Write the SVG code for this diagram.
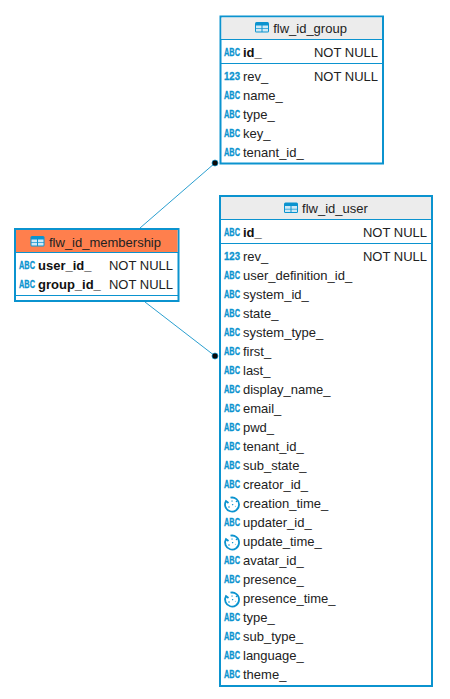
<svg xmlns="http://www.w3.org/2000/svg" width="450" height="699" viewBox="0 0 450 699">
<style>
text{font-family:"Liberation Sans",Arial,sans-serif;font-size:13px;fill:#222}
.box{fill:#fff;stroke:#0b93cf;stroke-width:2}
.hg{fill:#ececec}.ho{fill:#ff7f4d}
.sep{stroke:#0b93cf;stroke-width:1;fill:none}
.t{text-anchor:middle}
.e{text-anchor:end}
.b{font-weight:bold;fill:#111}
.i{font-size:10.5px;font-weight:bold;fill:#0b93cf;stroke:#0b93cf;stroke-width:.3}
.c{stroke:#2a9fd0;stroke-width:1;fill:none}
.dot{fill:#0a0a0a;stroke:#0b93cf;stroke-width:.7}
.ck{fill:none;stroke:#0b93cf;stroke-width:1.8}
.ckd{fill:none;stroke:#0b93cf;stroke-width:1.2;stroke-dasharray:1.2 2.4}
</style>
<defs>
<g id="tbl"><rect x="0" y="0" width="14" height="10.500" rx="1.500" fill="#0b93cf"/><rect x="1" y="3.500" width="5.500" height="2.800" fill="#cfe9f6"/><rect x="7.500" y="3.500" width="5.500" height="2.800" fill="#cfe9f6"/><rect x="1" y="7" width="5.500" height="2.500" fill="#cfe9f6"/><rect x="7.500" y="7" width="5.500" height="2.500" fill="#cfe9f6"/></g>
<g id="clk"><path class="ck" d="M6 1.200A7 7 0 1 1 1.500 4.500L4 6.500"/><path class="ckd" d="M7.500 4L8 8L11 10"/><circle cx="4.500" cy="10.500" r=".8" fill="#0b93cf"/><circle cx="12" cy="5" r=".8" fill="#0b93cf"/></g>
<text id="abc" class="i" textLength="16" lengthAdjust="spacingAndGlyphs">ABC</text>
<text id="num" class="i" textLength="16" lengthAdjust="spacingAndGlyphs">123</text>
</defs>
<g id="connectors">
<path class="c" d="M140 228L215 163"/>
<path class="c" d="M145 302L215 356"/>
<circle class="dot" cx="215" cy="163" r="3"/>
<circle class="dot" cx="215" cy="356" r="3"/>
</g>
<g id="flw_id_group">
<rect class="box" x="220.500" y="16.500" width="162.500" height="147"/>
<rect class="hg" x="221.500" y="17.500" width="160.500" height="22"/>
<path class="sep" d="M221 39.500H382M221 63.500H382"/>
<use href="#tbl" x="255" y="22"/>
<text class="t" x="310" y="33">flw_id_group</text>
<use href="#abc" x="224" y="55.500"/><text class="b" x="243" y="57">id_</text><text class="e" x="378" y="57">NOT NULL</text>
<use href="#num" x="224" y="79.500"/><text x="243" y="81">rev_</text><text class="e" x="378" y="81">NOT NULL</text>
<use href="#abc" x="224" y="98.500"/><text x="243" y="100">name_</text>
<use href="#abc" x="224" y="117.500"/><text x="243" y="119">type_</text>
<use href="#abc" x="224" y="136.500"/><text x="243" y="138">key_</text>
<use href="#abc" x="224" y="155.500"/><text x="243" y="157">tenant_id_</text>
</g>
<g id="flw_id_membership">
<rect class="box" x="15" y="229" width="163.500" height="72"/>
<rect class="ho" x="16" y="230" width="161.500" height="22.500"/>
<path class="sep" d="M16 252.500H178M16 295.500H178"/>
<use href="#tbl" x="30.500" y="236"/>
<text class="t" x="105" y="247">flw_id_membership</text>
<use href="#abc" x="19" y="268.500"/><text class="b" x="38" y="270">user_id_</text><text class="e" x="173" y="270">NOT NULL</text>
<use href="#abc" x="19" y="287.500"/><text class="b" x="38" y="289">group_id_</text><text class="e" x="173" y="289">NOT NULL</text>
</g>
<g id="flw_id_user">
<rect class="box" x="220" y="196" width="212" height="490"/>
<rect class="hg" x="221" y="197" width="210" height="22.500"/>
<path class="sep" d="M221 219.500H431M221 243.500H431"/>
<use href="#tbl" x="284" y="202.500"/>
<text class="t" x="335" y="213">flw_id_user</text>
<use href="#abc" x="224" y="235.500"/><text class="b" x="243" y="237">id_</text><text class="e" x="427" y="237">NOT NULL</text>
<use href="#num" x="224" y="259.500"/><text x="243" y="261">rev_</text><text class="e" x="427" y="261">NOT NULL</text>
<use href="#abc" x="224" y="278.500"/><text x="243" y="280">user_definition_id_</text>
<use href="#abc" x="224" y="297.500"/><text x="243" y="299">system_id_</text>
<use href="#abc" x="224" y="316.500"/><text x="243" y="318">state_</text>
<use href="#abc" x="224" y="335.500"/><text x="243" y="337">system_type_</text>
<use href="#abc" x="224" y="354.500"/><text x="243" y="356">first_</text>
<use href="#abc" x="224" y="373.500"/><text x="243" y="375">last_</text>
<use href="#abc" x="224" y="392.500"/><text x="243" y="394">display_name_</text>
<use href="#abc" x="224" y="411.500"/><text x="243" y="413">email_</text>
<use href="#abc" x="224" y="430.500"/><text x="243" y="432">pwd_</text>
<use href="#abc" x="224" y="449.500"/><text x="243" y="451">tenant_id_</text>
<use href="#abc" x="224" y="468.500"/><text x="243" y="470">sub_state_</text>
<use href="#abc" x="224" y="487.500"/><text x="243" y="489">creator_id_</text>
<use href="#clk" x="224.500" y="496.500"/><text x="243" y="508">creation_time_</text>
<use href="#abc" x="224" y="525.500"/><text x="243" y="527">updater_id_</text>
<use href="#clk" x="224.500" y="534.500"/><text x="243" y="546">update_time_</text>
<use href="#abc" x="224" y="563.500"/><text x="243" y="565">avatar_id_</text>
<use href="#abc" x="224" y="582.500"/><text x="243" y="584">presence_</text>
<use href="#clk" x="224.500" y="591.500"/><text x="243" y="603">presence_time_</text>
<use href="#abc" x="224" y="620.500"/><text x="243" y="622">type_</text>
<use href="#abc" x="224" y="639.500"/><text x="243" y="641">sub_type_</text>
<use href="#abc" x="224" y="658.500"/><text x="243" y="660">language_</text>
<use href="#abc" x="224" y="677.500"/><text x="243" y="679">theme_</text>
</g>
</svg>
